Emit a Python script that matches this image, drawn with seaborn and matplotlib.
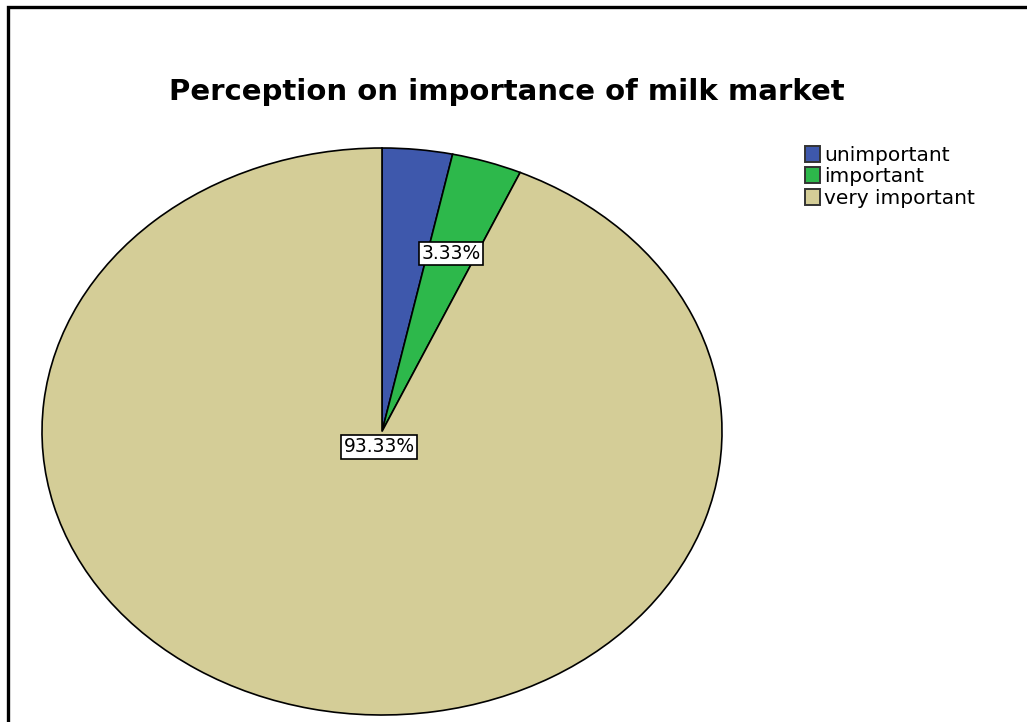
import numpy as np
import seaborn as sns
import matplotlib.pyplot as plt
from matplotlib.patches import Rectangle, Patch

categories = ['unimportant', 'important', 'very important']
percents = [3.33, 3.33, 93.33]
shown_labels = ['', '3.33%', '93.33%']
colors = ['#3E58AC', '#2DB84B', '#D4CD97']

sns.set_style('white')
plt.rcParams['font.family'] = ['DejaVu Sans']
plt.rcParams['text.color'] = 'black'

W, H = 1027, 722
fig = plt.figure(figsize=(W / 100, H / 100), dpi=100)

# outer frame (only left and top visible, rest clipped)
fig.patches.append(Rectangle((8 / W, -0.1), 1.2, 1 - 7 / H + 0.1, transform=fig.transFigure,
                             fill=False, edgecolor='black', linewidth=2.4, zorder=0))

# axes box = ellipse bounding box
ax = fig.add_axes([42 / W, 1 - 715 / H, (722 - 42) / W, (715 - 148) / H])
wedges, _ = ax.pie(percents, colors=colors, startangle=90, counterclock=False,
                   wedgeprops=dict(edgecolor='black', linewidth=1.2))
ax.set_aspect('auto')
ax.set_xlim(-1, 1)
ax.set_ylim(-1, 1)

label_r = [0.66, 0.66, 0.04]
for w, lab, r in zip(wedges, shown_labels, label_r):
    if not lab:
        continue
    th = np.deg2rad((w.theta1 + w.theta2) / 2)
    ax.text(r * np.cos(th), r * np.sin(th) - (0.015 if r < 0.1 else 0), lab,
            ha='center', va='center', fontsize=13.5, color='black',
            bbox=dict(boxstyle='square,pad=0.12', facecolor='white', edgecolor='black', linewidth=1.2))

fig.text(507 / W, 1 - 92 / H, 'Perception on importance of milk market',
         ha='center', va='center', fontsize=21, fontweight='bold', color='black')

handles = [Patch(facecolor=c, edgecolor='#333333', linewidth=1.4) for c in colors]
fig.legend(handles, categories, loc='upper left', bbox_to_anchor=(805 / W, 1 - 146 / H),
           frameon=False, fontsize=14.5, handlelength=0.75, handleheight=0.85,
           handletextpad=0.2, labelspacing=0.12, borderaxespad=0, borderpad=0,
           labelcolor='black')

fig.savefig('out.png', dpi=100)
